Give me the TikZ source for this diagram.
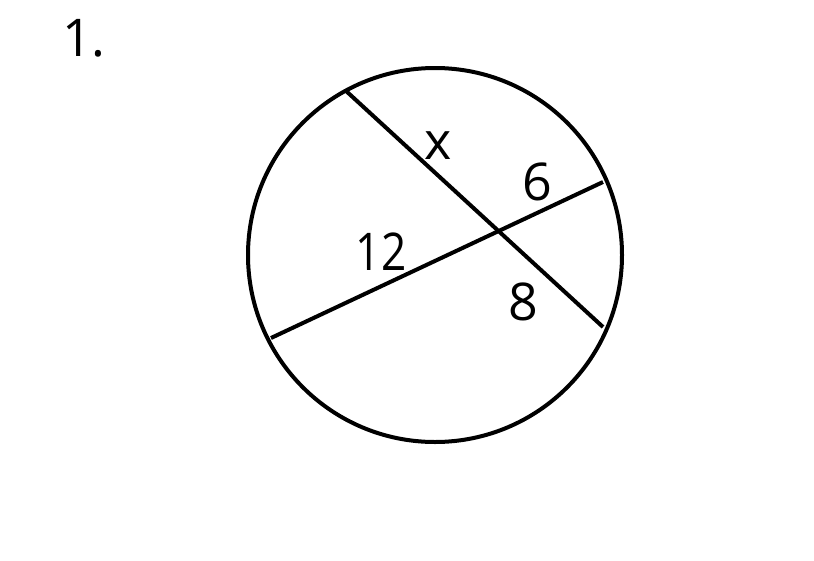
\documentclass[tikz,border=0pt]{standalone}
\usepackage{fontspec}
\setmainfont{Open Sans}
\begin{document}
\begin{tikzpicture}[x=1pt,y=-1pt,
  chord/.style={line width=4pt},
  lbl/.style={font=\fontsize{52}{52}\selectfont, inner sep=0pt, anchor=center}]
\useasboundingbox (0,0) rectangle (814,560);
\node[circle, draw, line width=4pt, minimum size=374pt, inner sep=0pt] (c) at (435,255) {};
\coordinate (a1) at (345,90);
\coordinate (a2) at (603,327);
\coordinate (b1) at (271,338);
\coordinate (b2) at (603,182);
\draw[chord] (a1) -- (a2);
\draw[chord] (b1) -- (b2);
\node[lbl] (x) at (438,146) {x};
\node[lbl] (six) at (537,182) {6};
\node[lbl, xscale=0.85] (twelve) at (381,252) {12};
\node[lbl] (eight) at (523,302) {8};
\node[lbl] (num) at (84,38) {1.};
\end{tikzpicture}
\end{document}
